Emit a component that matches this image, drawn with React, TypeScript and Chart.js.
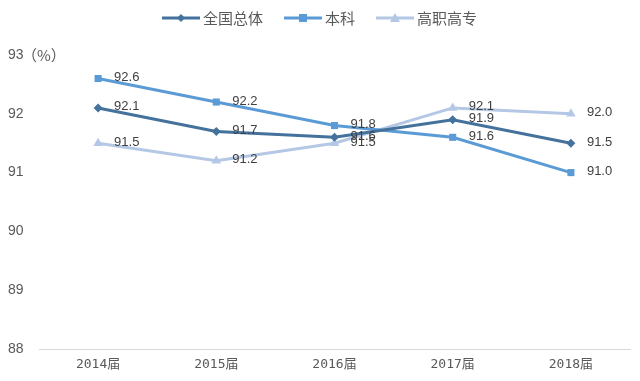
import React, { useEffect, useRef } from "react";
import { Chart, registerables } from "chart.js";

Chart.register(...registerables);

const categories = ["2014届", "2015届", "2016届", "2017届", "2018届"];
const overall = [92.1, 91.7, 91.6, 91.9, 91.5];
const undergrad = [92.6, 92.2, 91.8, 91.6, 91.0];
const vocational = [91.5, 91.2, 91.5, 92.1, 92.0];
const seriesNames = ["全国总体", "本科", "高职高专"];
const yTicks = [88, 89, 90, 91, 92, 93];
const yUnit = "（%）";

const colors = ["#44729D", "#5B9BD5", "#B4C8E6"];
const styles = ["rectRot", "rect", "triangle"];
const radii = [4.5, 5, 5.5];

const labelPlugin = {
  id: "valueLabels",
  afterDatasetsDraw(chart: any) {
    const ctx = chart.ctx;
    ctx.save();
    ctx.font = "13px 'Liberation Sans', 'DejaVu Sans', sans-serif";
    ctx.fillStyle = "#404040";
    ctx.textAlign = "left";
    ctx.textBaseline = "middle";
    chart.data.datasets.forEach((ds: any, i: number) => {
      const meta = chart.getDatasetMeta(i);
      meta.data.forEach((pt: any, j: number) => {
        ctx.fillText(Number(ds.data[j]).toFixed(1), pt.x + 16, pt.y - 1);
      });
    });
    const ys = chart.scales.y;
    const yTop = ys.getPixelForValue(ys.max);
    ctx.font = "15px 'Noto Sans CJK SC', sans-serif";
    ctx.fillStyle = "#595959";
    ctx.fillText(yUnit, 22, yTop);
    ctx.restore();
  },
};

const legendPlugin = {
  id: "customLegend",
  afterDraw(chart: any) {
    const ctx = chart.ctx;
    ctx.save();
    ctx.font = "15px 'Noto Sans CJK SC', sans-serif";
    ctx.textBaseline = "middle";
    const y = 18;
    const lineW = 38;
    const gap = 20;
    const widths = seriesNames.map((n) => lineW + 4 + ctx.measureText(n).width);
    const total = widths.reduce((a, b) => a + b, 0) + gap * (seriesNames.length - 1);
    let x = (chart.width - total) / 2;
    seriesNames.forEach((name, i) => {
      ctx.strokeStyle = colors[i];
      ctx.lineWidth = 3;
      ctx.beginPath();
      ctx.moveTo(x, y);
      ctx.lineTo(x + lineW, y);
      ctx.stroke();
      ctx.fillStyle = colors[i];
      const cx = x + lineW / 2;
      if (i === 0) {
        ctx.beginPath();
        ctx.moveTo(cx, y - 4);
        ctx.lineTo(cx + 4, y);
        ctx.lineTo(cx, y + 4);
        ctx.lineTo(cx - 4, y);
        ctx.closePath();
        ctx.fill();
      } else if (i === 1) {
        ctx.fillRect(cx - 4, y - 4, 8, 8);
      } else {
        ctx.beginPath();
        ctx.moveTo(cx, y - 5);
        ctx.lineTo(cx + 5, y + 4);
        ctx.lineTo(cx - 5, y + 4);
        ctx.closePath();
        ctx.fill();
      }
      ctx.fillStyle = "#595959";
      ctx.textAlign = "left";
      ctx.fillText(name, x + lineW + 3, y);
      x += widths[i] + gap;
    });
    ctx.restore();
  },
};

export default function App() {
  const ref = useRef<HTMLCanvasElement>(null);
  useEffect(() => {
    document.body.style.margin = "0";
    const data = [overall, undergrad, vocational];
    const chart = new Chart(ref.current as HTMLCanvasElement, {
      type: "line",
      data: {
        labels: categories,
        datasets: data.map((d, i) => ({
          label: seriesNames[i],
          data: d,
          borderColor: colors[i],
          backgroundColor: colors[i],
          borderWidth: 3,
          pointStyle: styles[i] as any,
          pointRadius: radii[i],
          pointBorderWidth: 0,
          tension: 0,
        })),
      },
      options: {
        animation: false,
        responsive: false,
        layout: { padding: { top: 55, right: 10, left: 8, bottom: 0 } },
        plugins: { legend: { display: false }, tooltip: { enabled: false } },
        scales: {
          x: {
            offset: true,
            grid: { display: false, drawTicks: false },
            border: { color: "#D9D9D9", width: 1 },
            ticks: {
              color: "#595959",
              padding: 8,
              font: { family: "'DejaVu Sans Mono', 'Noto Sans CJK SC', monospace", size: 13 },
            },
            afterFit(s: any) {
              s.height = 32;
            },
          },
          y: {
            min: 88,
            max: 93,
            afterBuildTicks(s: any) {
              s.ticks = yTicks.map((v) => ({ value: v }));
            },
            grid: { display: false, drawTicks: false },
            border: { display: false },
            ticks: {
              color: "#595959",
              crossAlign: "far",
              padding: 0,
              font: { family: "'Liberation Sans', sans-serif", size: 14 },
              callback: (v: any) => String(v),
            },
            afterFit(s: any) {
              s.width = 31;
            },
          },
        },
      },
      plugins: [labelPlugin, legendPlugin],
    });
    return () => chart.destroy();
  }, []);
  return (
    <div style={{ position: "relative", width: 640, height: 381 }}>
      <canvas ref={ref} width={640} height={381} />
    </div>
  );
}
